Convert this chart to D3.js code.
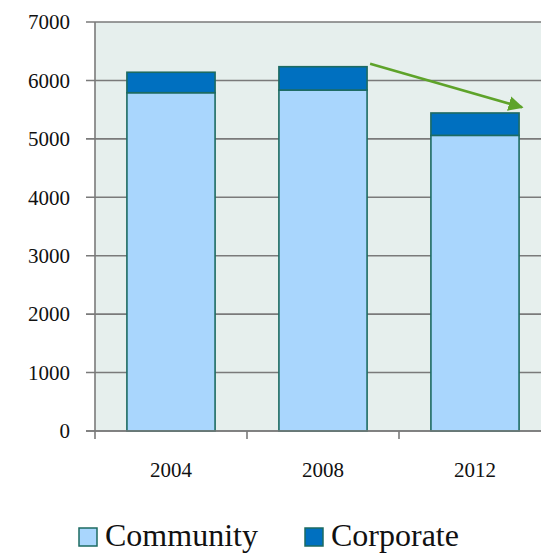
<!DOCTYPE html>
<html>
<head>
<meta charset="UTF-8">
<script src="https://d3js.org/d3.v7.min.js"></script>
<style>
  body { margin: 0; background: #fff; }
  text { font-family: "Liberation Serif", "DejaVu Serif", serif; fill: #111; }
</style>
</head>
<body>
<svg width="541" height="553"></svg>
<script>
// chart data
const years = ['2004', '2008', '2012'];
const community = [5790, 5835, 5060];
const corporate = [350, 400, 383];
const yTicks = [0, 1000, 2000, 3000, 4000, 5000, 6000, 7000];
const seriesNames = ['Community', 'Corporate'];
// trend arrow, in data terms: [year, value]
const arrowFrom = ['2008', 6285];
const arrowTo = ['2012', 5540];

const colors = { Community: '#a9d6fd', Corporate: '#0070c0' };

const rows = years.map((y, i) => ({ year: y, Community: community[i], Corporate: corporate[i] }));

const svg = d3.select('svg');

// plot box
const plotLeft = 95, plotTop = 22, plotBottom = 431, plotRight = 541;

const x = d3.scaleBand()
  .domain(years)
  .range([plotLeft, plotLeft + 456])
  .paddingInner(0.42)
  .paddingOuter(0.21);

const y = d3.scaleLinear().domain([0, 7000]).range([plotBottom, plotTop]);

// background
svg.append('rect')
  .attr('x', plotLeft).attr('y', plotTop)
  .attr('width', plotRight - plotLeft).attr('height', plotBottom - plotTop)
  .attr('fill', '#e6efed');

// gridlines + y ticks
svg.append('g')
  .selectAll('line')
  .data(yTicks)
  .join('line')
    .attr('x1', plotLeft - 9).attr('x2', plotRight)
    .attr('y1', d => y(d)).attr('y2', d => y(d))
    .attr('stroke', '#7a7a7a')
    .attr('stroke-width', 1.6);

// y labels
svg.append('g')
  .selectAll('text')
  .data(yTicks)
  .join('text')
    .attr('x', 70)
    .attr('y', d => y(d))
    .attr('dy', '0.35em')
    .attr('text-anchor', 'end')
    .attr('font-size', '21px')
    .text(d => d);

// stacked bars
const stacked = d3.stack().keys(seriesNames)(rows);

svg.append('g')
  .selectAll('g')
  .data(stacked)
  .join('g')
    .attr('fill', d => colors[d.key])
  .selectAll('rect')
  .data(d => d)
  .join('rect')
    .attr('x', d => x(d.data.year))
    .attr('width', x.bandwidth())
    .attr('y', d => y(d[1]))
    .attr('height', d => y(d[0]) - y(d[1]))
    .attr('stroke', '#1d6b62')
    .attr('stroke-width', 1.6);

// x axis line, ticks between categories
svg.append('line')
  .attr('x1', plotLeft - 9).attr('x2', plotRight)
  .attr('y1', plotBottom).attr('y2', plotBottom)
  .attr('stroke', '#7a7a7a').attr('stroke-width', 1.6);

svg.append('line')
  .attr('x1', plotLeft).attr('x2', plotLeft)
  .attr('y1', plotTop).attr('y2', plotBottom + 8)
  .attr('stroke', '#7a7a7a').attr('stroke-width', 1.6);

const step = x.step();
svg.append('g')
  .selectAll('line')
  .data(years)
  .join('line')
    .attr('x1', d => x(d) - x.paddingOuter() * step + step)
    .attr('x2', d => x(d) - x.paddingOuter() * step + step)
    .attr('y1', plotBottom).attr('y2', plotBottom + 8)
    .attr('stroke', '#7a7a7a').attr('stroke-width', 1.6);

svg.append('g')
  .selectAll('text')
  .data(years)
  .join('text')
    .attr('x', d => x(d) + x.bandwidth() / 2)
    .attr('y', 470)
    .attr('dy', '0.35em')
    .attr('text-anchor', 'middle')
    .attr('font-size', '21px')
    .text(d => d);

// trend arrow
svg.append('defs').append('marker')
  .attr('id', 'head')
  .attr('viewBox', '0 0 10 10')
  .attr('refX', 9).attr('refY', 5)
  .attr('markerWidth', 6).attr('markerHeight', 6)
  .attr('orient', 'auto')
  .append('path')
    .attr('d', 'M0,0 L10,5 L0,10 Z')
    .attr('fill', '#5ea32a');

svg.append('line')
  .attr('x1', x(arrowFrom[0]) + x.bandwidth() + 3)
  .attr('y1', y(arrowFrom[1]))
  .attr('x2', x(arrowTo[0]) + x.bandwidth() + 3)
  .attr('y2', y(arrowTo[1]))
  .attr('stroke', '#5ea32a')
  .attr('stroke-width', 2.5)
  .attr('marker-end', 'url(#head)');

// legend
const legendX = [79, 305];
const legend = svg.append('g')
  .selectAll('g')
  .data(seriesNames)
  .join('g')
    .attr('transform', (d, i) => `translate(${legendX[i]}, 0)`);

legend.append('rect')
  .attr('x', 0).attr('y', 528)
  .attr('width', 18).attr('height', 18)
  .attr('fill', d => colors[d])
  .attr('stroke', '#1d6b62')
  .attr('stroke-width', 1.5);

legend.append('text')
  .attr('x', 26).attr('y', 546)
  .attr('font-size', '32px')
  .text(d => d);
</script>
</body>
</html>
